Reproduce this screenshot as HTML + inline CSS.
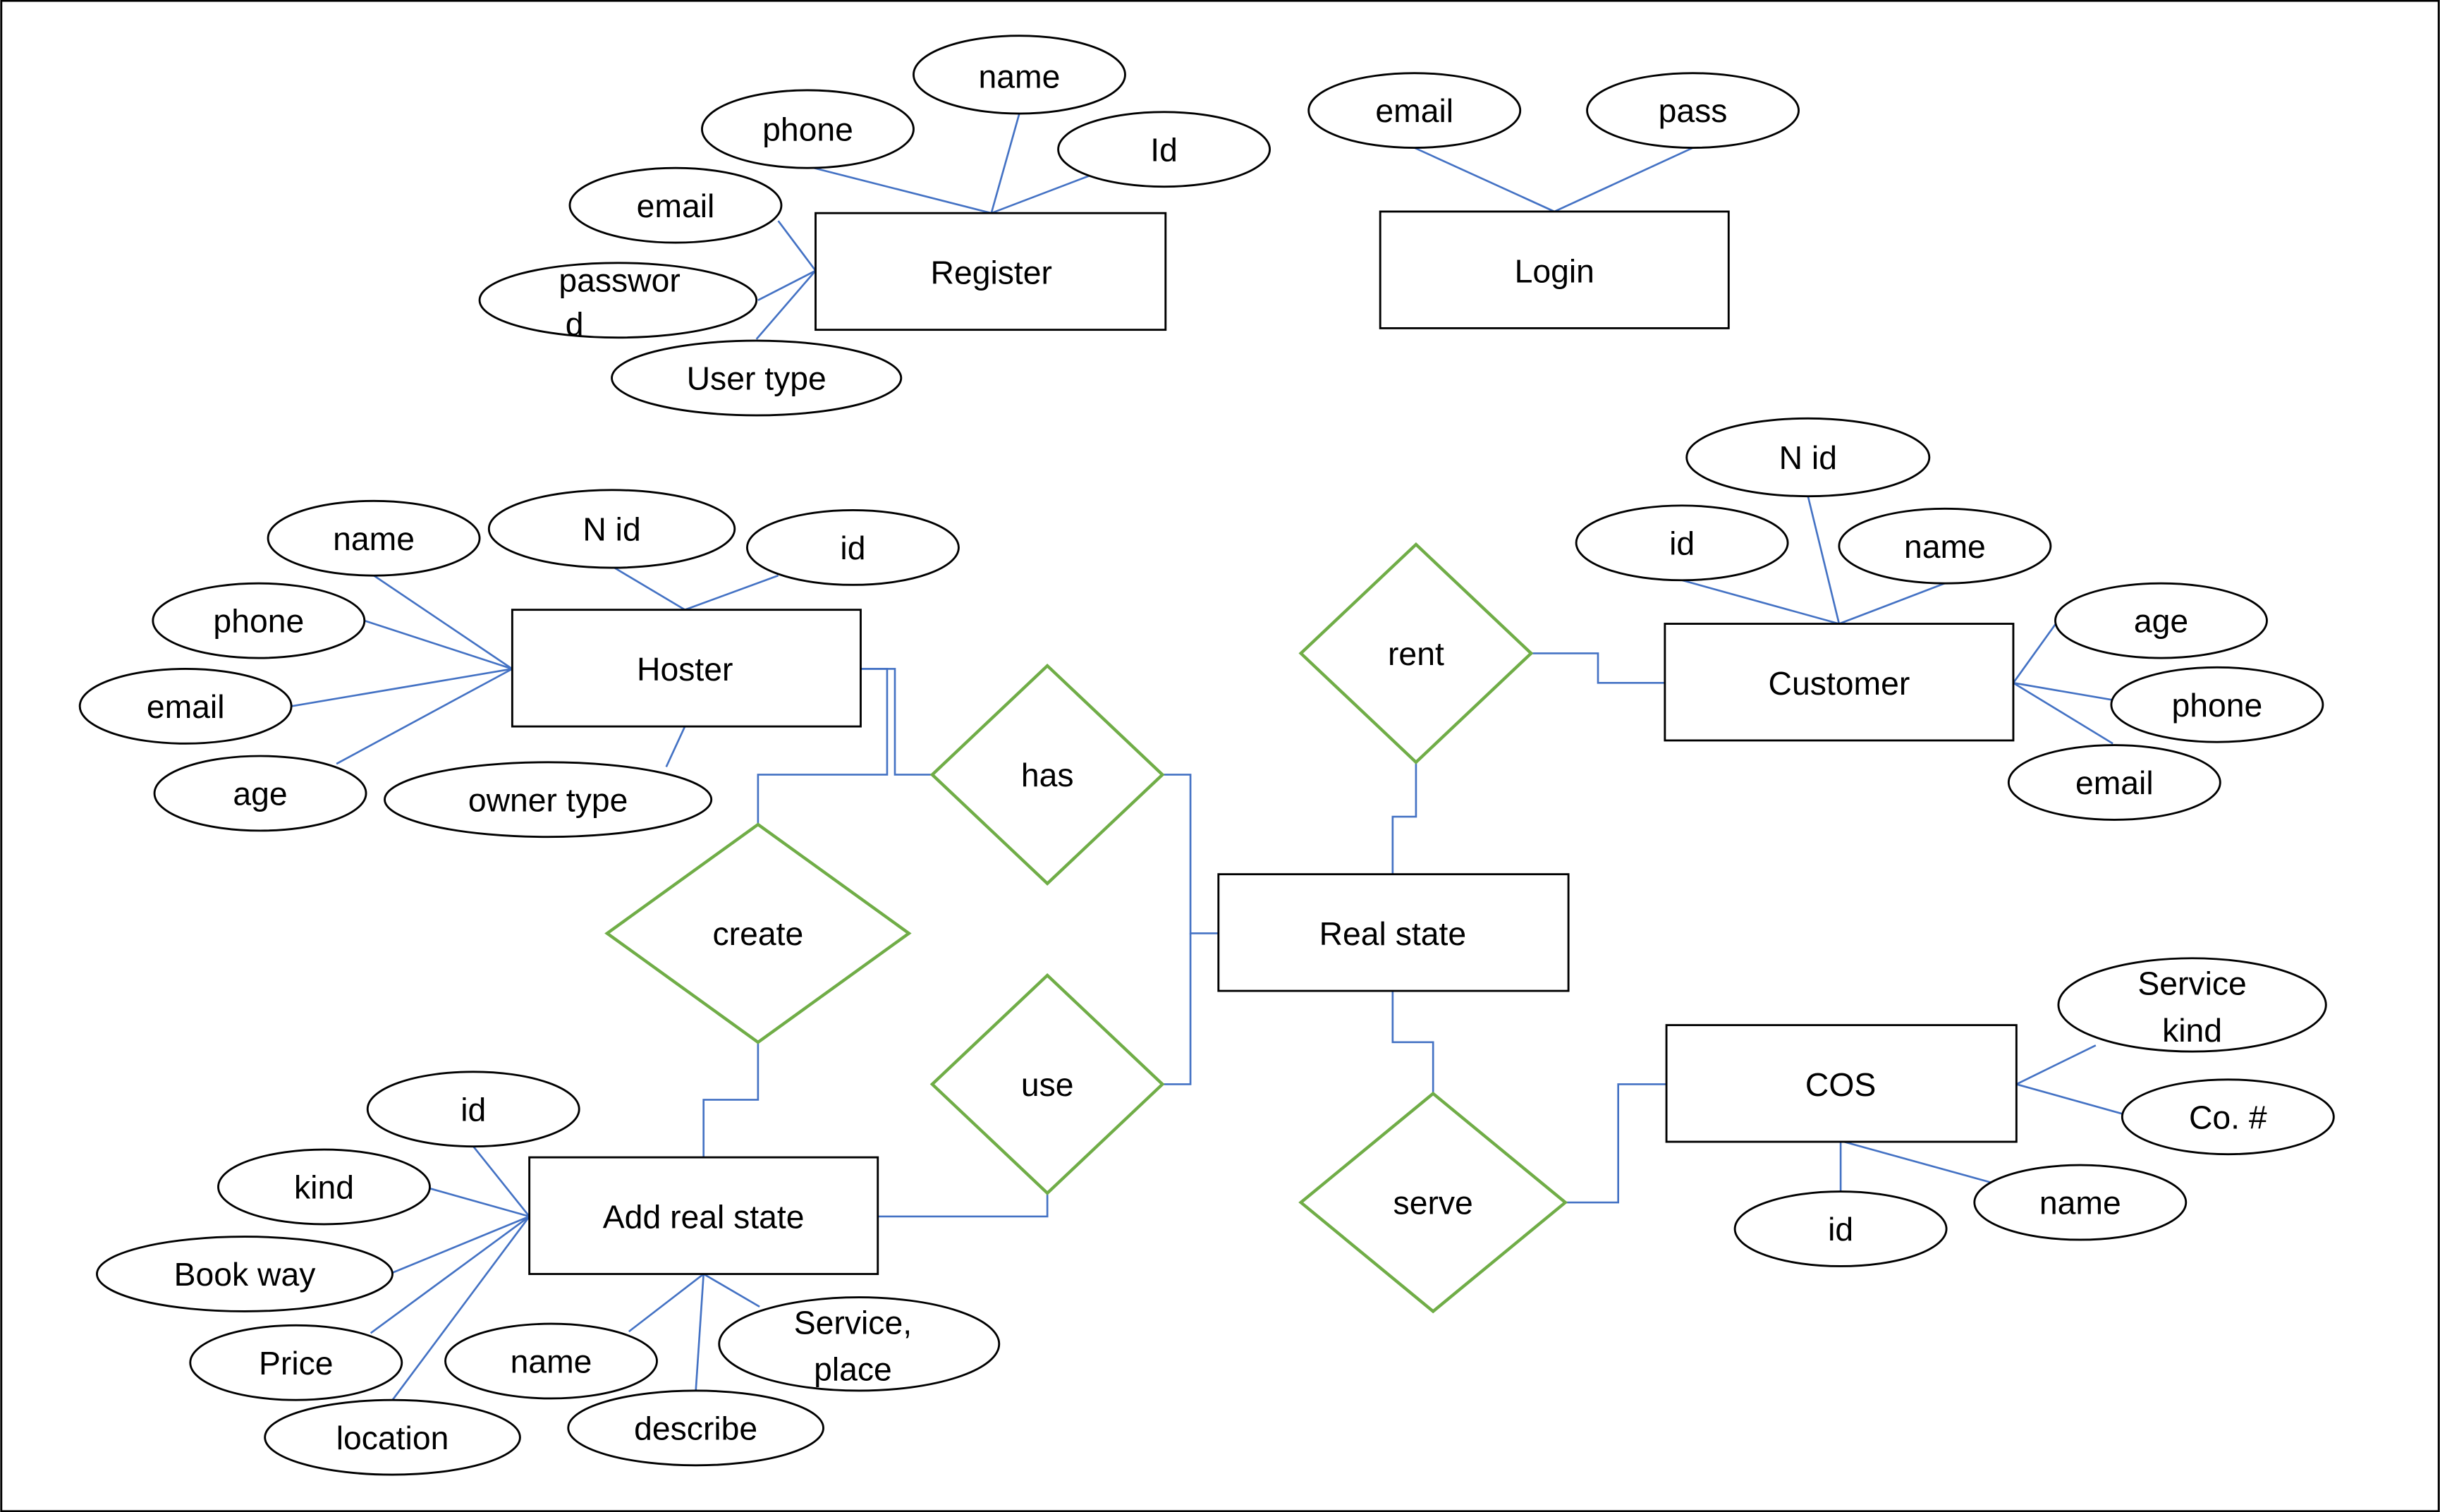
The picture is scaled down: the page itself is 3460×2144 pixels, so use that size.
<!DOCTYPE html>
<html><head><meta charset="utf-8"><style>
html,body{margin:0;padding:0;background:#fff;}
svg{display:block;}
text{font-family:"Liberation Sans",sans-serif;font-size:21px;fill:#000;text-anchor:middle;dominant-baseline:middle;transform:translateY(2px);}
.l{stroke:#4472C4;stroke-width:1.2;fill:none;}
.e{fill:#fff;stroke:#000;stroke-width:1.3;}
.r{fill:#fff;stroke:#000;stroke-width:1.3;}
.d{fill:#fff;stroke:#70AD47;stroke-width:2;}
</style></head><body>
<svg width="3460" height="2144" viewBox="0 0 1568 972">
<rect x="0.5" y="0.5" width="1567" height="971" fill="#fff" stroke="#000" stroke-width="1.3"/>
<g>
<line class="l" x1="655" y1="73" x2="637" y2="137"/><line class="l" x1="519" y1="107" x2="637" y2="137"/><line class="l" x1="700" y1="113" x2="637" y2="137"/><line class="l" x1="500" y1="142" x2="524" y2="174"/><line class="l" x1="487" y1="193" x2="524" y2="174"/><line class="l" x1="486" y1="218" x2="524" y2="174"/>
<line class="l" x1="909" y1="95" x2="999" y2="136"/><line class="l" x1="1088" y1="95" x2="999" y2="136"/>
<line class="l" x1="240" y1="370" x2="329" y2="430"/><line class="l" x1="393" y1="364" x2="440" y2="392"/><line class="l" x1="500" y1="370" x2="440" y2="392"/><line class="l" x1="234" y1="399" x2="329" y2="430"/><line class="l" x1="187" y1="454" x2="329" y2="430"/><line class="l" x1="216" y1="491" x2="329" y2="430"/><line class="l" x1="428" y1="493" x2="440" y2="467"/>
<line class="l" x1="1162" y1="319" x2="1182" y2="401"/><line class="l" x1="1081" y1="373" x2="1182" y2="401"/><line class="l" x1="1250" y1="375" x2="1182" y2="401"/><line class="l" x1="1322" y1="400" x2="1294" y2="439"/><line class="l" x1="1358" y1="450" x2="1294" y2="439"/><line class="l" x1="1358" y1="478" x2="1294" y2="439"/>
<line class="l" x1="1347" y1="672" x2="1296" y2="697"/><line class="l" x1="1364" y1="716" x2="1296" y2="697"/><line class="l" x1="1185" y1="734" x2="1290" y2="763"/><line class="l" x1="1183" y1="734" x2="1183" y2="766"/>
<line class="l" x1="340" y1="782" x2="304" y2="737"/><line class="l" x1="340" y1="782" x2="276" y2="764"/><line class="l" x1="340" y1="782" x2="250" y2="819"/><line class="l" x1="340" y1="782" x2="238" y2="857"/><line class="l" x1="340" y1="782" x2="252" y2="900"/>
<line class="l" x1="452" y1="819" x2="404" y2="856"/><line class="l" x1="452" y1="819" x2="447" y2="894"/><line class="l" x1="452" y1="819" x2="488" y2="840"/>
<polyline class="l" points="553,430 575,430 575,498 599,498"/>
<polyline class="l" points="553,430 570,430 570,498 487,498 487,530"/>
<polyline class="l" points="747,498 765,498 765,600 783,600"/>
<polyline class="l" points="747,697 765,697 765,600"/>
<polyline class="l" points="487,670 487,707 452,707 452,744"/>
<polyline class="l" points="564,782 673,782 673,767"/>
<polyline class="l" points="984,420 1027,420 1027,439 1070,439"/>
<polyline class="l" points="910,490 910,525 895,525 895,562"/>
<polyline class="l" points="895,637 895,670 921,670 921,703"/>
<polyline class="l" points="1006,773 1040,773 1040,697 1071,697"/>
</g>
<g><rect class="r" x="524" y="137" width="225" height="75"/><text x="637" y="175">Register</text></g>
<g><rect class="r" x="887" y="136" width="224" height="75"/><text x="999" y="174">Login</text></g>
<g><rect class="r" x="329" y="392" width="224" height="75"/><text x="440" y="430">Hoster</text></g>
<g><rect class="r" x="1070" y="401" width="224" height="75"/><text x="1182" y="439">Customer</text></g>
<g><rect class="r" x="783" y="562" width="225" height="75"/><text x="895" y="600">Real state</text></g>
<g><rect class="r" x="1071" y="659" width="225" height="75"/><text x="1183" y="697">COS</text></g>
<g><rect class="r" x="340" y="744" width="224" height="75"/><text x="452" y="782">Add real state</text></g>
<g>
<polygon class="d" points="910,350 984,420 910,490 836,420"/><text x="910" y="420">rent</text>
<polygon class="d" points="673,428 747,498 673,568 599,498"/><text x="673" y="498">has</text>
<polygon class="d" points="487,530 584,600 487,670 390,600"/><text x="487" y="600">create</text>
<polygon class="d" points="673,627 747,697 673,767 599,697"/><text x="673" y="697">use</text>
<polygon class="d" points="921,703 1006,773 921,843 836,773"/><text x="921" y="773">serve</text>
</g>
<g>
<ellipse class="e" cx="655" cy="48" rx="68" ry="25"/><text x="655" y="49">name</text>
<ellipse class="e" cx="519" cy="83" rx="68" ry="25"/><text x="519" y="83">phone</text>
<ellipse class="e" cx="748" cy="96" rx="68" ry="24"/><text x="748" y="96">Id</text>
<ellipse class="e" cx="434" cy="132" rx="68" ry="24"/><text x="434" y="132">email</text>
<ellipse class="e" cx="397" cy="193" rx="89" ry="24"/><text x="398" y="180">passwor</text><text x="369" y="208">d</text>
<ellipse class="e" cx="486" cy="243" rx="93" ry="24"/><text x="486" y="243">User type</text>
<ellipse class="e" cx="909" cy="71" rx="68" ry="24"/><text x="909" y="71">email</text>
<ellipse class="e" cx="1088" cy="71" rx="68" ry="24"/><text x="1088" y="71">pass</text>
<ellipse class="e" cx="240" cy="346" rx="68" ry="24"/><text x="240" y="346">name</text>
<ellipse class="e" cx="393" cy="340" rx="79" ry="25"/><text x="393" y="340">N id</text>
<ellipse class="e" cx="548" cy="352" rx="68" ry="24"/><text x="548" y="352">id</text>
<ellipse class="e" cx="166" cy="399" rx="68" ry="24"/><text x="166" y="399">phone</text>
<ellipse class="e" cx="119" cy="454" rx="68" ry="24"/><text x="119" y="454">email</text>
<ellipse class="e" cx="167" cy="510" rx="68" ry="24"/><text x="167" y="510">age</text>
<ellipse class="e" cx="352" cy="514" rx="105" ry="24"/><text x="352" y="514">owner type</text>
<ellipse class="e" cx="1162" cy="294" rx="78" ry="25"/><text x="1162" y="294">N id</text>
<ellipse class="e" cx="1081" cy="349" rx="68" ry="24"/><text x="1081" y="349">id</text>
<ellipse class="e" cx="1250" cy="351" rx="68" ry="24"/><text x="1250" y="351">name</text>
<ellipse class="e" cx="1389" cy="399" rx="68" ry="24"/><text x="1389" y="399">age</text>
<ellipse class="e" cx="1425" cy="453" rx="68" ry="24"/><text x="1425" y="453">phone</text>
<ellipse class="e" cx="1359" cy="503" rx="68" ry="24"/><text x="1359" y="503">email</text>
<ellipse class="e" cx="1409" cy="646" rx="86" ry="30"/><text x="1409" y="632">Service</text><text x="1409" y="662">kind</text>
<ellipse class="e" cx="1432" cy="718" rx="68" ry="24"/><text x="1432" y="718">Co. #</text>
<ellipse class="e" cx="1337" cy="773" rx="68" ry="24"/><text x="1337" y="773">name</text>
<ellipse class="e" cx="1183" cy="790" rx="68" ry="24"/><text x="1183" y="790">id</text>
<ellipse class="e" cx="304" cy="713" rx="68" ry="24"/><text x="304" y="713">id</text>
<ellipse class="e" cx="208" cy="763" rx="68" ry="24"/><text x="208" y="763">kind</text>
<ellipse class="e" cx="157" cy="819" rx="95" ry="24"/><text x="157" y="819">Book way</text>
<ellipse class="e" cx="190" cy="876" rx="68" ry="24"/><text x="190" y="876">Price</text>
<ellipse class="e" cx="252" cy="924" rx="82" ry="24"/><text x="252" y="924">location</text>
<ellipse class="e" cx="354" cy="875" rx="68" ry="24"/><text x="354" y="875">name</text>
<ellipse class="e" cx="447" cy="918" rx="82" ry="24"/><text x="447" y="918">describe</text>
<ellipse class="e" cx="552" cy="864" rx="90" ry="30"/><text x="548" y="850">Service,</text><text x="548" y="880">place</text>
</g>
</svg>
</body></html>
